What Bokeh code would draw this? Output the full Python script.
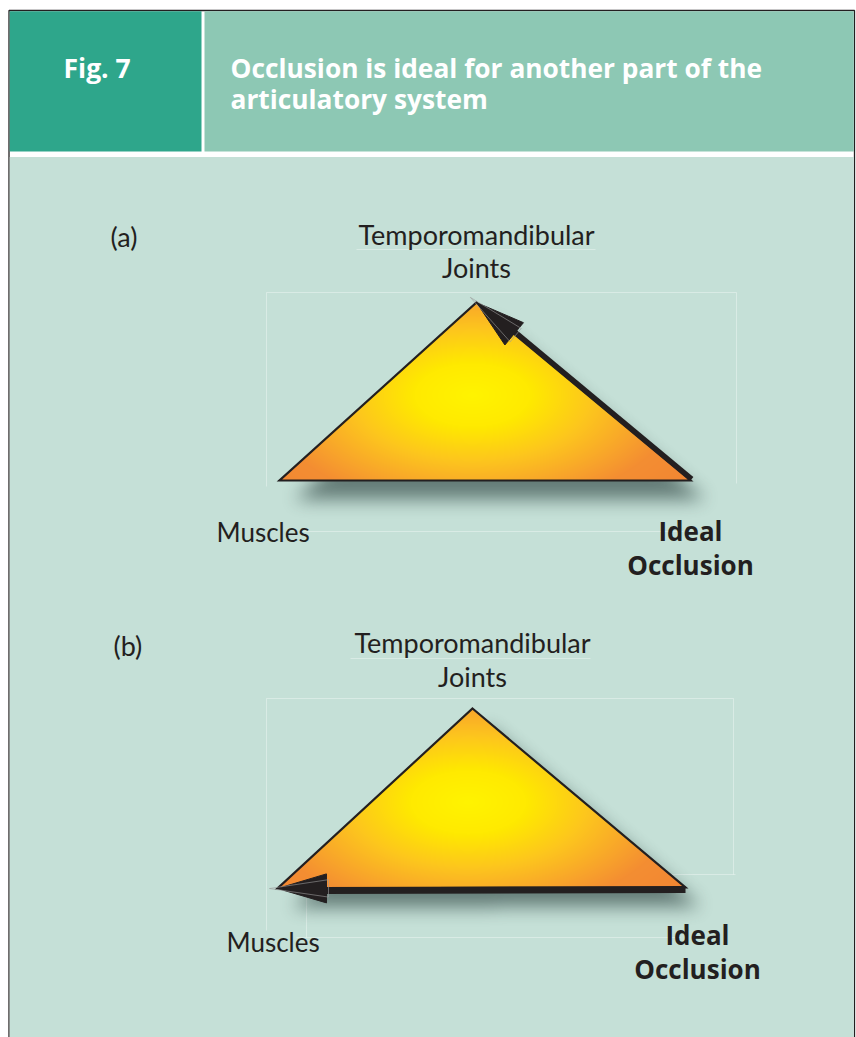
import numpy as np
from bokeh.plotting import figure
from bokeh.models import Range1d
from bokeh.core.properties import value
from bokeh.embed import file_html
from bokeh.resources import INLINE

# ---------------- data ----------------
fig_label = "Fig. 7"
title_lines = ["Occlusion is ideal for another part of the", "articulatory system"]
panel_labels = ["(a)", "(b)"]
apex_labels = ["Temporomandibular", "Joints"]
left_labels = ["Muscles"]
right_labels = ["Ideal", "Occlusion"]

# triangle vertices (picture coordinates: x to the right, y downward)
apex_x = [476, 472]
apex_y = [302, 708]
left_x = [279, 277]
left_y = [480, 888]
right_x = [690, 685]
right_y = [480, 887]
# arrow in each panel: from vertex -> to vertex
arrow_from = ["right", "right"]
arrow_to = ["apex", "left"]

# ---------------- layout ----------------
W_PX, H = 856, 1037
def fy(v):
    return H - np.asarray(v, dtype=float)

FONT = value("Lato")
FONT_B = value("Open Sans")
DARK = "#231F20"
TEAL_DARK = "#2EA68B"
TEAL_LIGHT = "#8DC8B4"
BODY = "#C5E0D7"

panel_label_pos = [(110, 236), (113, 645)]
apex_label_base = [(234, 267), (642, 676)]
muscles_pos = [(216, 531), (226, 941)]
ideal_pos = [(690, 530, 564), (697, 934, 968)]
shaft_width = [5, 7]

p = figure(width=W_PX, height=H, x_range=Range1d(0, W_PX), y_range=Range1d(0, H),
           output_backend="svg", toolbar_location=None, min_border=0)
p.axis.visible = False
p.grid.visible = False
p.outline_line_color = None
p.background_fill_color = "white"
p.border_fill_color = "white"

# frame and header blocks
p.quad(left=[8.5], right=[854], top=fy([10]), bottom=fy([1040]),
       fill_color="white", line_color=DARK, line_width=1.3)
p.quad(left=[9.2], right=[201], top=fy([10.7]), bottom=fy([151]),
       fill_color=TEAL_DARK, line_color=None)
p.quad(left=[204], right=[853.3], top=fy([10.7]), bottom=fy([151]),
       fill_color=TEAL_LIGHT, line_color=None)
p.quad(left=[9.2], right=[853.3], top=fy([156.5]), bottom=fy([1040]),
       fill_color=BODY, line_color=None)

# header texts
p.text(x=[63], y=fy([67]), text=[fig_label], text_font=FONT_B, text_font_style="bold",
       text_font_size="26.5px", text_color="white", text_baseline="alphabetic", text_align="left")
p.text(x=[230, 230], y=fy([67, 98]), text=title_lines, text_font=FONT_B, text_font_style="bold",
       text_font_size="26.3px", text_color="white", text_baseline="alphabetic", text_align="left")

# faint construction lines (as in the source artwork)
faint = dict(line_color="white", line_alpha=0.35, line_width=1)
p.multi_line(xs=[[266, 736], [266, 266], [736, 736], [300, 683],
                 [266, 733], [266, 266], [733, 733], [306, 735], [306, 306], [296, 680]],
             ys=[fy([292, 292]), fy([292, 486]), fy([292, 483]), fy([531, 531]),
                 fy([698, 698]), fy([698, 930]), fy([698, 874]), fy([874, 874]),
                 fy([874, 937]), fy([937, 937])], **faint)
p.multi_line(xs=[[356, 595], [350, 590]], ys=[fy([249, 249]), fy([658, 658])], **faint)


def inside(X, Y, xs, ys):
    d = []
    for i in range(3):
        x1, y1 = xs[i], ys[i]
        x2, y2 = xs[(i + 1) % 3], ys[(i + 1) % 3]
        d.append((x2 - x1) * (Y - y1) - (y2 - y1) * (X - x1))
    d = np.array(d)
    return (np.all(d >= 0, axis=0) | np.all(d <= 0, axis=0)).astype(float)


def blur1d(a, r, axis):
    pad = [(0, 0), (0, 0)]
    pad[axis] = (r + 1, r)
    q = np.pad(a, pad, mode="constant")
    c = np.cumsum(q, axis=axis)
    if axis == 0:
        return (c[2 * r + 1:] - c[:-2 * r - 1]) / (2 * r + 1)
    return (c[:, 2 * r + 1:] - c[:, :-2 * r - 1]) / (2 * r + 1)


def blur(a, r, n=3):
    for _ in range(n):
        a = blur1d(blur1d(a, r, 0), r, 1)
    return a


stops = [0.0, 0.28, 0.58, 0.85, 1.0, 1.5]
cols = np.array([[255, 244, 0], [255, 234, 0], [253, 198, 30], [248, 162, 44],
                 [244, 142, 50], [240, 128, 50]], float)

for k in range(2):
    xs = [apex_x[k], right_x[k], left_x[k]]
    ys = [apex_y[k], right_y[k], left_y[k]]
    x0, x1 = min(xs) - 25, max(xs) + 65
    y0, y1 = min(ys) - 20, max(ys) + 70
    X, Y = np.meshgrid(np.arange(x0, x1) + 0.5, np.arange(y0, y1) + 0.5)
    mask = inside(X, Y, xs, ys)
    sh = blur(inside(X - 15, Y - 19, xs, ys), 8) * 0.62
    cx = apex_x[k] - 4
    cy = apex_y[k] + 0.52 * (left_y[k] - apex_y[k])
    d = np.sqrt(((X - cx) / 208.0) ** 2 + ((Y - cy) / 114.0) ** 2)
    rgb = np.stack([np.interp(d, stops, cols[:, c]) for c in range(3)], axis=-1)
    shadow_rgb = np.array([40, 62, 60], float)
    out_rgb = rgb * mask[..., None] + shadow_rgb * (1 - mask[..., None])
    alpha = mask + (1 - mask) * sh
    img = np.zeros(X.shape + (4,), dtype=np.uint8)
    img[..., :3] = np.clip(out_rgb, 0, 255).astype(np.uint8)
    img[..., 3] = np.clip(alpha * 255, 0, 255).astype(np.uint8)
    img = img[::-1].copy()
    p.image_rgba(image=[img.view(np.uint32).reshape(X.shape)], x=[x0], y=fy([y1]),
                 dw=[x1 - x0], dh=[y1 - y0])

    # outline
    p.patch(x=xs, y=fy(ys), fill_alpha=0, line_color=DARK, line_width=2.2, line_join="miter")

    # arrow
    verts = {"apex": (apex_x[k], apex_y[k]), "left": (left_x[k], left_y[k]),
             "right": (right_x[k], right_y[k])}
    P = np.array(verts[arrow_from[k]], float)
    T = np.array(verts[arrow_to[k]], float)
    u = (T - P) / np.linalg.norm(T - P)
    nrm = np.array([-u[1], u[0]])
    cen = np.array([np.mean(xs), np.mean(ys)])
    if np.dot(nrm, (P + T) / 2 - cen) < 0:
        nrm = -nrm
    L, W = 49.0, 14.5
    B = T - L * u
    off = nrm * 2.0
    p.line(x=[P[0] + off[0], B[0] + off[0] + 4 * u[0]], y=fy([P[1] + off[1], B[1] + off[1] + 4 * u[1]]),
           line_color=DARK, line_width=shaft_width[k], line_cap="butt")
    h1 = B + W * nrm
    h2 = B - W * nrm
    p.patch(x=[T[0], h1[0], h2[0]], y=fy([T[1], h1[1], h2[1]]), fill_color=DARK,
            line_color=DARK, line_width=1)
    p.patch(x=[T[0] + 8 * u[0], B[0] + 0.6 * W * nrm[0] - 2 * u[0], B[0] - 0.6 * W * nrm[0] - 2 * u[0]],
            y=fy([T[1] + 8 * u[1], B[1] + 0.6 * W * nrm[1] - 2 * u[1], B[1] - 0.6 * W * nrm[1] - 2 * u[1]]),
            fill_alpha=0, line_color="#9A9A9A", line_width=0.6)

    # labels
    lx, ly = panel_label_pos[k]
    p.text(x=[lx], y=fy([ly]), text=[panel_labels[k]], text_font=FONT, text_font_size="27px",
           text_color=DARK, text_baseline="alphabetic", text_align="left")
    b1, b2 = apex_label_base[k]
    p.text(x=[apex_x[k], apex_x[k]], y=fy([b1, b2]), text=apex_labels, text_font=FONT,
           text_font_size="27px", text_color=DARK, text_baseline="alphabetic", text_align="center")
    mx, my = muscles_pos[k]
    p.text(x=[mx], y=fy([my]), text=left_labels, text_font=FONT, text_font_size="26px",
           text_color=DARK, text_baseline="alphabetic", text_align="left")
    ix, i1, i2 = ideal_pos[k]
    p.text(x=[ix, ix], y=fy([i1, i2]), text=right_labels, text_font=FONT_B, text_font_style="bold",
           text_font_size="26px", text_color=DARK, text_baseline="alphabetic", text_align="center")

open("out.html", "w").write(file_html(p, INLINE))
